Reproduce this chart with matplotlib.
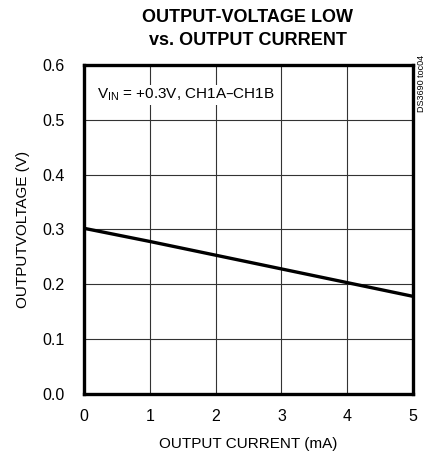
import matplotlib
matplotlib.use('Agg')
import matplotlib.pyplot as plt

plt.rcParams['font.family'] = ['Liberation Sans', 'DejaVu Sans']

current = [0, 1, 2, 3, 4, 5]
voltage = [0.302, 0.278, 0.253, 0.228, 0.203, 0.178]
xticks = [0, 1, 2, 3, 4, 5]
yticks = [0.0, 0.1, 0.2, 0.3, 0.4, 0.5, 0.6]

fig = plt.figure(figsize=(4.27, 4.57), dpi=100)
ax = fig.add_axes([0.197, 0.138, 0.770, 0.720])

ax.plot(current, voltage, color='black', lw=2.4, zorder=3)
ax.set_xlim(0, 5)
ax.set_ylim(0, 0.6)
ax.set_xticks(xticks)
ax.set_yticks(yticks)
ax.set_yticklabels(['%.1f' % v for v in yticks])
ax.grid(True, color='#333333', lw=0.8)
ax.tick_params(axis='y', length=0, labelsize=11.5, pad=14)
ax.tick_params(axis='x', length=0, labelsize=11.5, pad=11)
for s in ax.spines.values():
    s.set_linewidth(2.4)

ax.set_xlabel('OUTPUT CURRENT (mA)', fontsize=11, labelpad=9)
ax.set_ylabel('OUTPUTVOLTAGE (V)', fontsize=11, labelpad=9)
fig.suptitle('OUTPUT-VOLTAGE LOW\nvs. OUTPUT CURRENT', fontsize=13, fontweight='bold',
             y=0.98, x=0.58, linespacing=1.45)

ax.text(0.2, 0.545, r'V$_{\mathregular{IN}}$ = +0.3V, CH1A–CH1B', fontsize=11, va='center', ha='left',
        bbox=dict(facecolor='white', edgecolor='none', pad=1), zorder=4)
ax.text(1.012, 1.03, 'DS3690 toc04', transform=ax.transAxes, rotation=90, fontsize=6.5,
        va='top', ha='left')

fig.savefig('out.png', dpi=100)
